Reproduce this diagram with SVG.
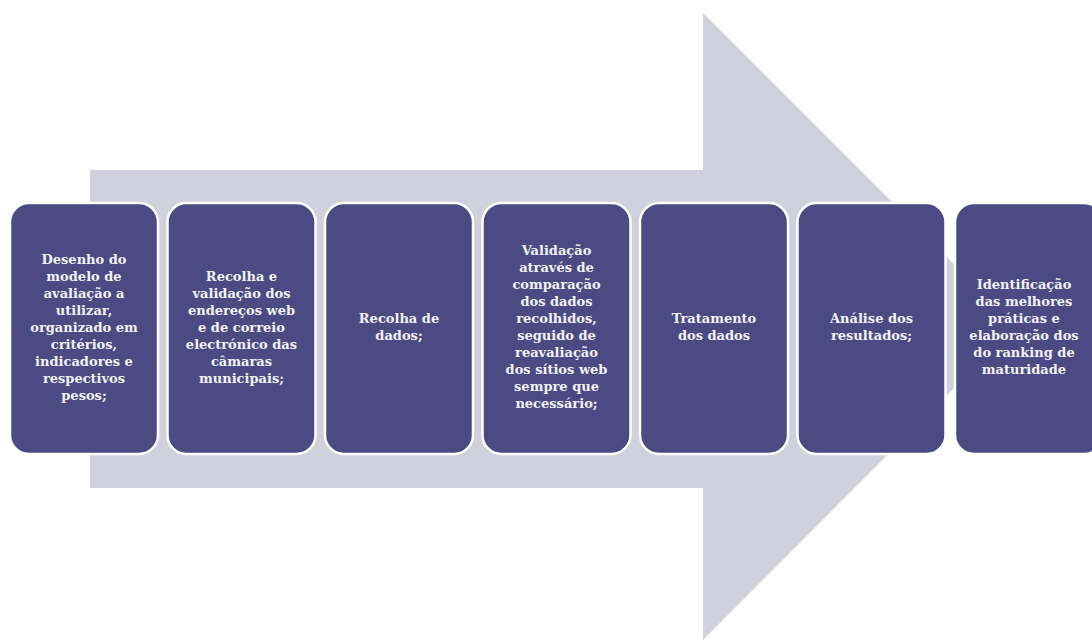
<svg xmlns="http://www.w3.org/2000/svg" width="1092" height="641" viewBox="0 0 1092 641">
<style>
.box{fill:#4b4a83;stroke:#ffffff;stroke-width:2.5}
.t{font-family:"DejaVu Serif","Liberation Serif",serif;font-weight:bold;font-size:13px;fill:#f2f2f6;text-anchor:middle}
</style>
<rect width="1092" height="641" fill="#ffffff"/>
<g id="arrow">
<polygon points="90,170 703,170 703,13 1016,326 703,640 703,488 90,488" fill="#d0d1dc"/>
</g>
<g id="connectors"></g>
<g id="n1">
<rect class="box" x="10" y="203" width="148" height="251" rx="19"/>
<text class="t"><tspan x="84" y="264">Desenho do</tspan><tspan x="84" y="281">modelo de</tspan><tspan x="84" y="298">avaliação a</tspan><tspan x="84" y="315">utilizar,</tspan><tspan x="84" y="332">organizado em</tspan><tspan x="84" y="349">critérios,</tspan><tspan x="84" y="366">indicadores e</tspan><tspan x="84" y="383">respectivos</tspan><tspan x="84" y="400">pesos;</tspan></text>
</g>
<g id="n2">
<rect class="box" x="167.5" y="203" width="148" height="251" rx="19"/>
<text class="t"><tspan x="241.5" y="281">Recolha e</tspan><tspan x="241.5" y="298">validação dos</tspan><tspan x="241.5" y="315">endereços web</tspan><tspan x="241.5" y="332">e de correio</tspan><tspan x="241.5" y="349">electrónico das</tspan><tspan x="241.5" y="366">câmaras</tspan><tspan x="241.5" y="383">municipais;</tspan></text>
</g>
<g id="n3">
<rect class="box" x="325" y="203" width="148" height="251" rx="19"/>
<text class="t"><tspan x="399" y="323">Recolha de</tspan><tspan x="399" y="340">dados;</tspan></text>
</g>
<g id="n4">
<rect class="box" x="482.5" y="203" width="148" height="251" rx="19"/>
<text class="t"><tspan x="556.5" y="255">Validação</tspan><tspan x="556.5" y="272">através de</tspan><tspan x="556.5" y="289">comparação</tspan><tspan x="556.5" y="306">dos dados</tspan><tspan x="556.5" y="323">recolhidos,</tspan><tspan x="556.5" y="340">seguido de</tspan><tspan x="556.5" y="357">reavaliação</tspan><tspan x="556.5" y="374">dos sítios web</tspan><tspan x="556.5" y="391">sempre que</tspan><tspan x="556.5" y="408">necessário;</tspan></text>
</g>
<g id="n5">
<rect class="box" x="640" y="203" width="148" height="251" rx="19"/>
<text class="t"><tspan x="714" y="323">Tratamento</tspan><tspan x="714" y="340">dos dados</tspan></text>
</g>
<g id="n6">
<rect class="box" x="797.5" y="203" width="148" height="251" rx="19"/>
<text class="t"><tspan x="871.5" y="323">Análise dos</tspan><tspan x="871.5" y="340">resultados;</tspan></text>
</g>
<g id="n7">
<rect class="box" x="955" y="203" width="148" height="251" rx="19"/>
<text class="t"><tspan x="1024" y="289">Identificação</tspan><tspan x="1024" y="306">das melhores</tspan><tspan x="1024" y="323">práticas e</tspan><tspan x="1024" y="340">elaboração dos</tspan><tspan x="1024" y="357">do ranking de</tspan><tspan x="1024" y="374">maturidade</tspan></text>
</g>
</svg>
